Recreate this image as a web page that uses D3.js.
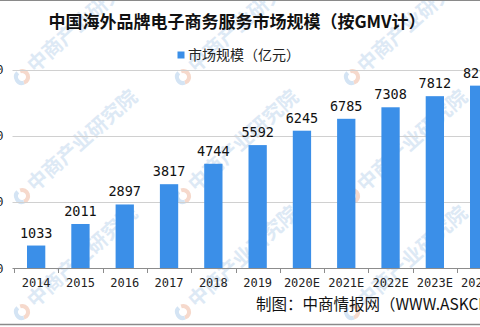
<!DOCTYPE html>
<html><head><meta charset="utf-8">
<script src="https://cdn.jsdelivr.net/npm/d3@7"></script>
<style>
html,body{margin:0;padding:0;background:#fff;overflow:hidden;}
svg{display:block;}
</style></head>
<body>
<svg id="chart" width="480" height="327"></svg>
<script>
const categories = ["2014","2015","2016","2017","2018","2019","2020E","2021E","2022E","2023E","2024E"];
const values = [1033,2011,2897,3817,4744,5592,6245,6785,7308,7812,8290];
const yTicks = [0,3000,6000,9000];
const titleText = "中国海外品牌电子商务服务市场规模（按GMV计）";
const legendText = "市场规模（亿元）";
const sourceText = "制图：中商情报网（WWW.ASKCI.COM）";
const watermarkText = "中商产业研究院";

const svg = d3.select("#chart");
const W = 480, H = 327;
const barColor = "#3b8fe8";

// borders
svg.append("rect").attr("x",0).attr("y",0).attr("width",W).attr("height",H).attr("fill","#fff");

// watermarks
const wmPos = [[22,77],[183,77],[352,77],[22,196],[183,196],[352,196],[22,312],[183,312],[352,312],[90,-40],[260,-40],[430,-40]];
const wm = svg.append("g").attr("class","watermark");
wmPos.forEach(([x,y])=>{
  const g = wm.append("g").attr("transform",`translate(${x},${y})`);
  g.append("path").attr("d", d3.arc()({innerRadius:4,outerRadius:8,startAngle:-Math.PI*0.1,endAngle:Math.PI*0.9}))
    .attr("fill","#f6d9cc");
  g.append("path").attr("d", d3.arc()({innerRadius:4,outerRadius:8,startAngle:Math.PI*0.9,endAngle:Math.PI*1.75}))
    .attr("fill","#d4e4f4");
  g.append("text").attr("x",12).attr("y",6).attr("transform","rotate(-42)")
    .attr("font-family","'Noto Sans CJK SC'").attr("font-size",20).attr("font-weight","bold")
    .attr("fill","#dde9f5").text(watermarkText);
});

const x = d3.scaleBand().domain(categories).range([14, 14 + categories.length*44.3])
  .paddingInner(0.587).paddingOuter(0.587/2);
const y = d3.scaleLinear().domain([0,9000]).range([268.3,70]);

// gridlines
svg.append("g").selectAll("line").data(yTicks.filter(d=>d>0)).join("line")
  .attr("x1",12.5).attr("x2",W).attr("y1",d=>Math.round(y(d))+0.5).attr("y2",d=>Math.round(y(d))+0.5)
  .attr("stroke","#d0d0d0").attr("stroke-width",1);

// y labels
svg.append("g").selectAll("text").data(yTicks).join("text")
  .attr("x",3.5).attr("y",d=>y(d)).attr("dy","0.35em").attr("text-anchor","end")
  .attr("font-family","'DejaVu Sans Mono'").attr("font-size",12).attr("fill","#222")
  .text(d=>d);

// bars
svg.append("g").selectAll("rect").data(values).join("rect")
  .attr("x",(d,i)=>x(categories[i])).attr("width",x.bandwidth())
  .attr("y",d=>y(d)).attr("height",d=>y(0)-y(d)).attr("fill",barColor);

// x axis
const xAxis = d3.axisBottom(x).tickSize(0).tickPadding(10);
const ax = svg.append("g").attr("transform",`translate(0,${Math.round(y(0))+0.5})`).call(xAxis);
ax.select(".domain").attr("stroke","#8c8c8c").attr("d",`M12.5,0H${W}`);
ax.selectAll("text").attr("font-family","'DejaVu Sans Mono'").attr("font-size",12).attr("fill","#222");
// boundary ticks
const step = x.step();
svg.append("g").selectAll("line").data(d3.range(categories.length+1)).join("line")
  .attr("x1",i=>Math.round(14+i*step)+0.5).attr("x2",i=>Math.round(14+i*step)+0.5)
  .attr("y1",Math.round(y(0))+0.5).attr("y2",Math.round(y(0))+5)
  .attr("stroke","#8c8c8c");

// value labels
svg.append("g").selectAll("text").data(values).join("text")
  .attr("x",(d,i)=>x(categories[i])+x.bandwidth()/2).attr("y",d=>y(d)-8)
  .attr("text-anchor","middle").attr("font-family","'DejaVu Sans Mono'").attr("font-size",13.5)
  .attr("fill","#111").text(d=>d);

// title
svg.append("text").attr("x",237).attr("y",28).attr("text-anchor","middle")
  .attr("font-family","'Noto Sans CJK SC'").attr("font-weight","bold").attr("font-size",17)
  .attr("fill","#111").text(titleText);

// legend
svg.append("rect").attr("x",177.5).attr("y",51.5).attr("width",7).attr("height",7).attr("fill",barColor);
svg.append("text").attr("x",188).attr("y",60).attr("font-family","'Noto Sans CJK SC'")
  .attr("font-size",14).attr("fill","#222").text(legendText);

// source
svg.append("text").attr("x",256).attr("y",310).attr("font-family","'Noto Sans CJK SC'")
  .attr("font-size",15.5).attr("fill","#111").text(sourceText);

// top/bottom borders
svg.append("line").attr("x1",0).attr("x2",W).attr("y1",0.5).attr("y2",0.5).attr("stroke","#8a8a8a");
svg.append("line").attr("x1",0).attr("x2",W).attr("y1",324.5).attr("y2",324.5).attr("stroke","#8a8a8a").attr("stroke-width",1.5);
</script>
</body></html>
